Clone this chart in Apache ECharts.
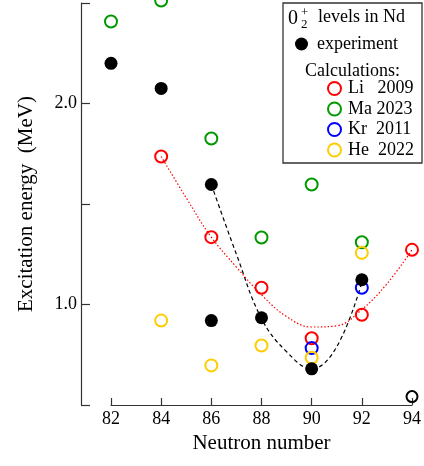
<!DOCTYPE html>
<html><head><meta charset="utf-8">
<script src="https://cdn.jsdelivr.net/npm/echarts@6/dist/echarts.min.js"></script>
<style>html,body{margin:0;padding:0;background:#fff}#c{width:424px;height:466px}</style>
</head><body><div id="c"></div>
<script>
// Neutron-number ticks and energy range
const xTicks = [82, 84, 86, 88, 90, 92, 94];
const yTicks = [0.5, 1.0, 1.5, 2.0, 2.5];

// Experiment (filled)
const expN = [82, 84, 86, 86, 88, 90, 92];
const expE = [2.20, 2.075, 1.597, 0.92, 0.934, 0.68, 1.123];
// Experiment (open, tentative)
const expOpenN = [94];
const expOpenE = [0.542];

// Calculations
const liN = [84, 86, 88, 90, 92, 94];
const liE = [1.736, 1.335, 1.083, 0.832, 0.949, 1.272];
const maN = [82, 84, 86, 88, 90, 92];
const maE = [2.408, 2.512, 1.826, 1.333, 1.597, 1.31];
const krN = [90, 92];
const krE = [0.783, 1.083];
const heN = [84, 86, 88, 90, 92];
const heE = [0.92, 0.697, 0.796, 0.735, 1.257];

// Guide curves
const expFitN = [86, 87, 88, 89, 90, 91, 92];
const expFitE = [1.597, 1.25, 0.93, 0.765, 0.68, 0.79, 1.11];
const liFitN = [84, 85, 86, 87, 88, 89, 90, 91, 92, 93, 94];
const liFitE = [1.736, 1.53, 1.335, 1.186, 1.048, 0.94, 0.888, 0.894, 0.975, 1.103, 1.272];

const zip = (a, b) => a.map((v, i) => [v, b[i]]);
const FONT = "'Liberation Serif','DejaVu Serif',serif";
const AX = '#333';

const chart = echarts.init(document.getElementById('c'), null, {renderer: 'canvas'});

function openSeries(name, N, E, color) {
  return {
    name, type: 'scatter', xAxisIndex: 0, yAxisIndex: 0, clip: false,
    data: zip(N, E), symbol: 'circle', symbolSize: 12,
    itemStyle: {color: 'rgba(255,255,255,0)', borderColor: color, borderWidth: 2, opacity: 1},
    emphasis: {disabled: true}, z: 3
  };
}

const option = {
  animation: false,
  backgroundColor: '#fff',
  grid: [
    {left: 111, right: 11, top: 3, bottom: 61},
    {left: 81, width: 30, top: 3, bottom: 61}
  ],
  xAxis: [
    {
      gridIndex: 0, type: 'value', min: 82, max: 94, interval: 2,
      name: 'Neutron number', nameLocation: 'middle', nameGap: 24,
      nameTextStyle: {fontFamily: FONT, fontSize: 21, color: '#000'},
      axisLine: {show: true, lineStyle: {color: AX, width: 1.2}},
      axisTick: {show: true, inside: true, length: 7, lineStyle: {color: AX, width: 1.2}},
      axisLabel: {fontFamily: FONT, fontSize: 18, color: '#000', margin: 5},
      splitLine: {show: false}
    },
    {gridIndex: 1, type: 'value', min: 0, max: 1, show: false}
  ],
  yAxis: [
    {gridIndex: 0, type: 'value', min: 0.5, max: 2.5, show: false},
    {
      gridIndex: 1, type: 'value', min: 0.5, max: 2.5, interval: 0.5,
      name: 'Excitation energy  (MeV)', nameLocation: 'middle', nameGap: 44,
      nameTextStyle: {fontFamily: FONT, fontSize: 21, color: '#000'},
      axisLine: {show: true, lineStyle: {color: AX, width: 1.2}},
      axisTick: {show: true, inside: true, length: 9, lineStyle: {color: AX, width: 1.2}},
      axisLabel: {fontFamily: FONT, fontSize: 18, color: '#000', margin: 4,
        formatter: v => (Math.abs(v - 1) < 1e-9 || Math.abs(v - 2) < 1e-9) ? v.toFixed(1) : ''},
      splitLine: {show: false}
    }
  ],
  legend: [
    {
      data: [{name: 'experiment', icon: 'circle'}],
      left: 295, top: 35, padding: 0, itemWidth: 13, itemHeight: 13, itemGap: 0,
      selectedMode: false,
      textStyle: {fontFamily: FONT, fontSize: 18, color: '#000', padding: [0, 0, 0, 4]}
    },
    {
      data: ['Li   2009', 'Ma 2023', 'Kr  2011', 'He  2022'],
      orient: 'vertical', left: 327, top: 79.5, padding: 0, itemWidth: 13, itemHeight: 13, itemGap: 2.5,
      selectedMode: false,
      textStyle: {fontFamily: FONT, fontSize: 18, color: '#000', padding: [0, 0, 0, 2]}
    }
  ],
  graphic: [
    {type: 'rect', shape: {x: 283, y: 3, width: 139, height: 160},
      style: {fill: '#fff', stroke: '#333', lineWidth: 1.3}, z: 0, zlevel: 0},
    {type: 'text', left: 288, top: 9, style: {text: '0', font: '20px ' + FONT, fill: '#000'}, z: 10},
    {type: 'text', left: 301, top: 6, style: {text: '+', font: '13px ' + FONT, fill: '#000'}, z: 10},
    {type: 'text', left: 301, top: 18, style: {text: '2', font: '13px ' + FONT, fill: '#000'}, z: 10},
    {type: 'text', left: 318, top: 8, style: {text: 'levels in Nd', font: '18px ' + FONT, fill: '#000'}, z: 10},
    {type: 'text', left: 305, top: 62, style: {text: 'Calculations:', font: '18px ' + FONT, fill: '#000'}, z: 10}
  ],
  series: [
    {
      name: 'expFit', type: 'line', xAxisIndex: 0, yAxisIndex: 0, data: zip(expFitN, expFitE),
      smooth: 0.4, symbol: 'none', clip: false, silent: true,
      lineStyle: {color: '#000', width: 1.2, type: [4, 3]}, z: 2
    },
    {
      name: 'liFit', type: 'line', xAxisIndex: 0, yAxisIndex: 0, data: zip(liFitN, liFitE),
      smooth: 0.4, symbol: 'none', clip: false, silent: true,
      lineStyle: {color: '#ff0000', width: 1.2, type: [1.5, 2]}, z: 2
    },
    openSeries('Li   2009', liN, liE, '#ff0000'),
    openSeries('Ma 2023', maN, maE, '#009900'),
    openSeries('Kr  2011', krN, krE, '#0000ff'),
    openSeries('He  2022', heN, heE, '#ffcc00'),
    {
      name: 'experiment', type: 'scatter', xAxisIndex: 0, yAxisIndex: 0, clip: false,
      data: zip(expN, expE), symbol: 'circle', symbolSize: 13,
      itemStyle: {color: '#000', opacity: 1}, emphasis: {disabled: true}, z: 5
    },
    {
      name: 'experiment (tentative)', type: 'scatter', xAxisIndex: 0, yAxisIndex: 0, clip: false,
      data: zip(expOpenN, expOpenE), symbol: 'circle', symbolSize: 11,
      itemStyle: {color: 'rgba(255,255,255,0)', borderColor: '#000', borderWidth: 2, opacity: 1},
      emphasis: {disabled: true}, z: 5
    }
  ]
};
chart.setOption(option);
</script></body></html>
